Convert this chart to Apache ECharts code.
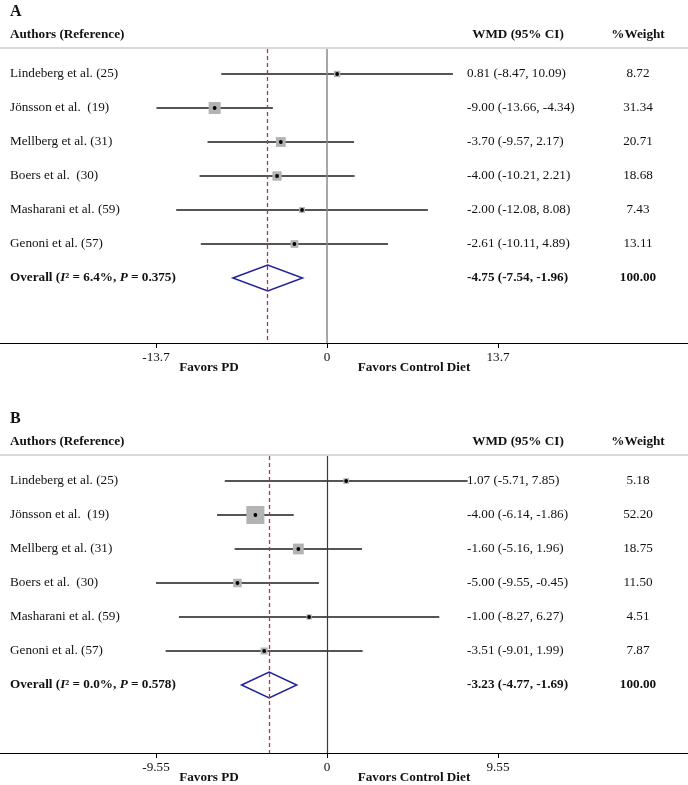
<!DOCTYPE html>
<html><head><meta charset="utf-8">
<script src="https://cdn.jsdelivr.net/npm/echarts@6/dist/echarts.min.js"></script>
<style>html,body{margin:0;padding:0;background:#fff}#c{width:688px;height:785px}</style>
</head><body><div id="c"></div>
<script>
// ---- data ----
const studies = ["Lindeberg et al. (25)", "Jönsson et al.  (19)", "Mellberg et al. (31)", "Boers et al.  (30)", "Masharani et al. (59)", "Genoni et al. (57)"];

const estA = [0.81, -9.00, -3.70, -4.00, -2.00, -2.61];
const loA  = [-8.47, -13.66, -9.57, -10.21, -12.08, -10.11];
const hiA  = [10.09, -4.34, 2.17, 2.21, 8.08, 4.89];
const wA   = [8.72, 31.34, 20.71, 18.68, 7.43, 13.11];
const overallA = [-4.75, -7.54, -1.96];
const i2A = "6.4%";
const pA = "0.375";
const ticksA = [-13.7, 0, 13.7];

const estB = [1.07, -4.00, -1.60, -5.00, -1.00, -3.51];
const loB  = [-5.71, -6.14, -5.16, -9.55, -8.27, -9.01];
const hiB  = [7.85, -1.86, 1.96, -0.45, 6.27, 1.99];
const wB   = [5.18, 52.20, 18.75, 11.50, 4.51, 7.87];
const overallB = [-3.23, -4.77, -1.69];
const i2B = "0.0%";
const pB = "0.578";
const ticksB = [-9.55, 0, 9.55];

const panelLabels = ["A", "B"];
const colHeaders = ["Authors (Reference)", "WMD (95% CI)", "%Weight"];
const favorLabels = ["Favors PD", "Favors Control Diet"];

// ---- styling / layout ----
const FONT = '"Liberation Serif","Times New Roman",serif';
const FS = 13.2;
const W = 688;
const panels = [
  {top: 49, axisY: 343, row0: 74, pxPerUnit: 171 / 13.7, k: 2.15, zeroColor: '#8a8a8a', zeroW: 1.5},
  {top: 456, axisY: 753, row0: 481, pxPerUnit: 171 / 9.55, k: 2.5, zeroColor: '#3a3a3a', zeroW: 1.2}
];
const ROWH = 34, ZEROX = 327, TXT_WMD = 467, TXT_W = 638;

const fmt = v => v.toFixed(2);

function studyRender(k) {
  return function (params, api) {
    const i = api.value(1);
    const a = api.coord([api.value(2), i]);
    const b = api.coord([api.value(3), i]);
    const c = api.coord([api.value(0), i]);
    const y = c[1];
    const s = k * Math.sqrt(api.value(4));
    const wmd = fmt(api.value(0)) + ' (' + fmt(api.value(2)) + ', ' + fmt(api.value(3)) + ')';
    return {type: 'group', children: [
      {type: 'line', shape: {x1: a[0], y1: y, x2: b[0], y2: y}, style: {stroke: '#1c1c1c', lineWidth: 1.5}},
      {type: 'rect', shape: {x: c[0] - s / 2, y: y - s / 2, width: s, height: s}, style: {fill: '#b3b3b3'}},
      {type: 'circle', shape: {cx: c[0], cy: y, r: 1.9}, style: {fill: '#000'}},
      {type: 'text', x: 10, y: y, style: {text: studies[i], fontSize: FS, fontFamily: FONT, fill: '#111', verticalAlign: 'middle'}},
      {type: 'text', x: TXT_WMD, y: y, style: {text: wmd, fontSize: FS, fontFamily: FONT, fill: '#111', verticalAlign: 'middle'}},
      {type: 'text', x: TXT_W, y: y, style: {text: fmt(api.value(4)), fontSize: FS, fontFamily: FONT, fill: '#111', align: 'center', verticalAlign: 'middle'}}
    ]};
  };
}

function overallRender(i2, p) {
  return function (params, api) {
    const i = api.value(1);
    const c = api.coord([api.value(0), i]);
    const a = api.coord([api.value(2), i]);
    const b = api.coord([api.value(3), i]);
    const y = c[1], h = 13;
    const wmd = fmt(api.value(0)) + ' (' + fmt(api.value(2)) + ', ' + fmt(api.value(3)) + ')';
    const rich = {
      b: {fontSize: FS, fontFamily: FONT, fontWeight: 'bold', fill: '#111'},
      bi: {fontSize: FS, fontFamily: FONT, fontWeight: 'bold', fontStyle: 'italic', fill: '#111'}
    };
    return {type: 'group', children: [
      {type: 'polygon', shape: {points: [[a[0], y], [c[0], y - h], [b[0], y], [c[0], y + h]]}, style: {fill: 'none', stroke: '#22229a', lineWidth: 1.5}},
      {type: 'text', x: 10, y: y, style: {text: '{b|Overall (}{bi|I}{b|² = ' + i2 + ', }{bi|P}{b| = ' + p + ')}', rich: rich, verticalAlign: 'middle'}},
      {type: 'text', x: TXT_WMD, y: y, style: {text: wmd, fontSize: FS, fontFamily: FONT, fontWeight: 'bold', fill: '#111', verticalAlign: 'middle'}},
      {type: 'text', x: TXT_W, y: y, style: {text: '100.00', fontSize: FS, fontFamily: FONT, fontWeight: 'bold', fill: '#111', align: 'center', verticalAlign: 'middle'}}
    ]};
  };
}

const sets = [
  {est: estA, lo: loA, hi: hiA, w: wA, ov: overallA, i2: i2A, p: pA, ticks: ticksA},
  {est: estB, lo: loB, hi: hiB, w: wB, ov: overallB, i2: i2B, p: pB, ticks: ticksB}
];

const grids = [], xAxes = [], yAxes = [], series = [], graphics = [];
sets.forEach((d, pi) => {
  const P = panels[pi];
  grids.push({left: 0, width: W, top: P.top, height: P.axisY - P.top});
  xAxes.push({
    gridIndex: pi, type: 'value',
    min: -ZEROX / P.pxPerUnit, max: (W - ZEROX) / P.pxPerUnit,
    splitLine: {show: false},
    axisLine: {onZero: false, lineStyle: {color: '#000', width: 1}},
    axisTick: {customValues: d.ticks, length: 5, lineStyle: {color: '#000'}},
    axisLabel: {customValues: d.ticks, formatter: v => String(v), color: '#111', fontSize: FS, fontFamily: FONT, margin: 8}
  });
  yAxes.push({
    gridIndex: pi, type: 'value', inverse: true, show: false,
    min: -(P.row0 - P.top) / ROWH, max: (P.axisY - P.row0) / ROWH
  });
  series.push({
    type: 'custom', xAxisIndex: pi, yAxisIndex: pi,
    data: d.est.map((e, i) => [e, i, d.lo[i], d.hi[i], d.w[i]]),
    encode: {x: 0, y: 1},
    renderItem: studyRender(P.k),
    z: 3,
    markLine: {
      silent: true, symbol: ['none', 'none'], label: {show: false},
      data: [
        {xAxis: 0, lineStyle: {color: P.zeroColor, width: P.zeroW, type: 'solid'}},
        {xAxis: d.ov[0], lineStyle: {color: '#b0354f', width: 1.3, type: [4, 3]}}
      ]
    }
  });
  series.push({
    type: 'custom', xAxisIndex: pi, yAxisIndex: pi,
    data: [[d.ov[0], d.est.length, d.ov[1], d.ov[2]]],
    encode: {x: 0, y: 1},
    renderItem: overallRender(d.i2, d.p),
    z: 3
  });
  // headers
  graphics.push({type: 'text', x: 10, y: P.top - 37, style: {text: panelLabels[pi], fontSize: 16, fontWeight: 'bold', fontFamily: FONT, fill: '#111', verticalAlign: 'middle'}});
  graphics.push({type: 'text', x: 10, y: P.top - 14, style: {text: colHeaders[0], fontSize: FS, fontWeight: 'bold', fontFamily: FONT, fill: '#111', verticalAlign: 'middle'}});
  graphics.push({type: 'text', x: 518, y: P.top - 14, style: {text: colHeaders[1], fontSize: FS, fontWeight: 'bold', fontFamily: FONT, fill: '#111', align: 'center', verticalAlign: 'middle'}});
  graphics.push({type: 'text', x: TXT_W, y: P.top - 14, style: {text: colHeaders[2], fontSize: FS, fontWeight: 'bold', fontFamily: FONT, fill: '#111', align: 'center', verticalAlign: 'middle'}});
  graphics.push({type: 'line', shape: {x1: 0, y1: P.top - 1, x2: W, y2: P.top - 1}, style: {stroke: '#d9d9d9', lineWidth: 2}});
  graphics.push({type: 'text', x: 209, y: P.axisY + 25, style: {text: favorLabels[0], fontSize: FS, fontWeight: 'bold', fontFamily: FONT, fill: '#111', align: 'center', verticalAlign: 'middle'}});
  graphics.push({type: 'text', x: 414, y: P.axisY + 25, style: {text: favorLabels[1], fontSize: FS, fontWeight: 'bold', fontFamily: FONT, fill: '#111', align: 'center', verticalAlign: 'middle'}});
});

const chart = echarts.init(document.getElementById('c'), null, {renderer: 'canvas'});
chart.setOption({
  animation: false,
  backgroundColor: '#fff',
  grid: grids, xAxis: xAxes, yAxis: yAxes, series: series,
  graphic: graphics
});
</script>
</body></html>
